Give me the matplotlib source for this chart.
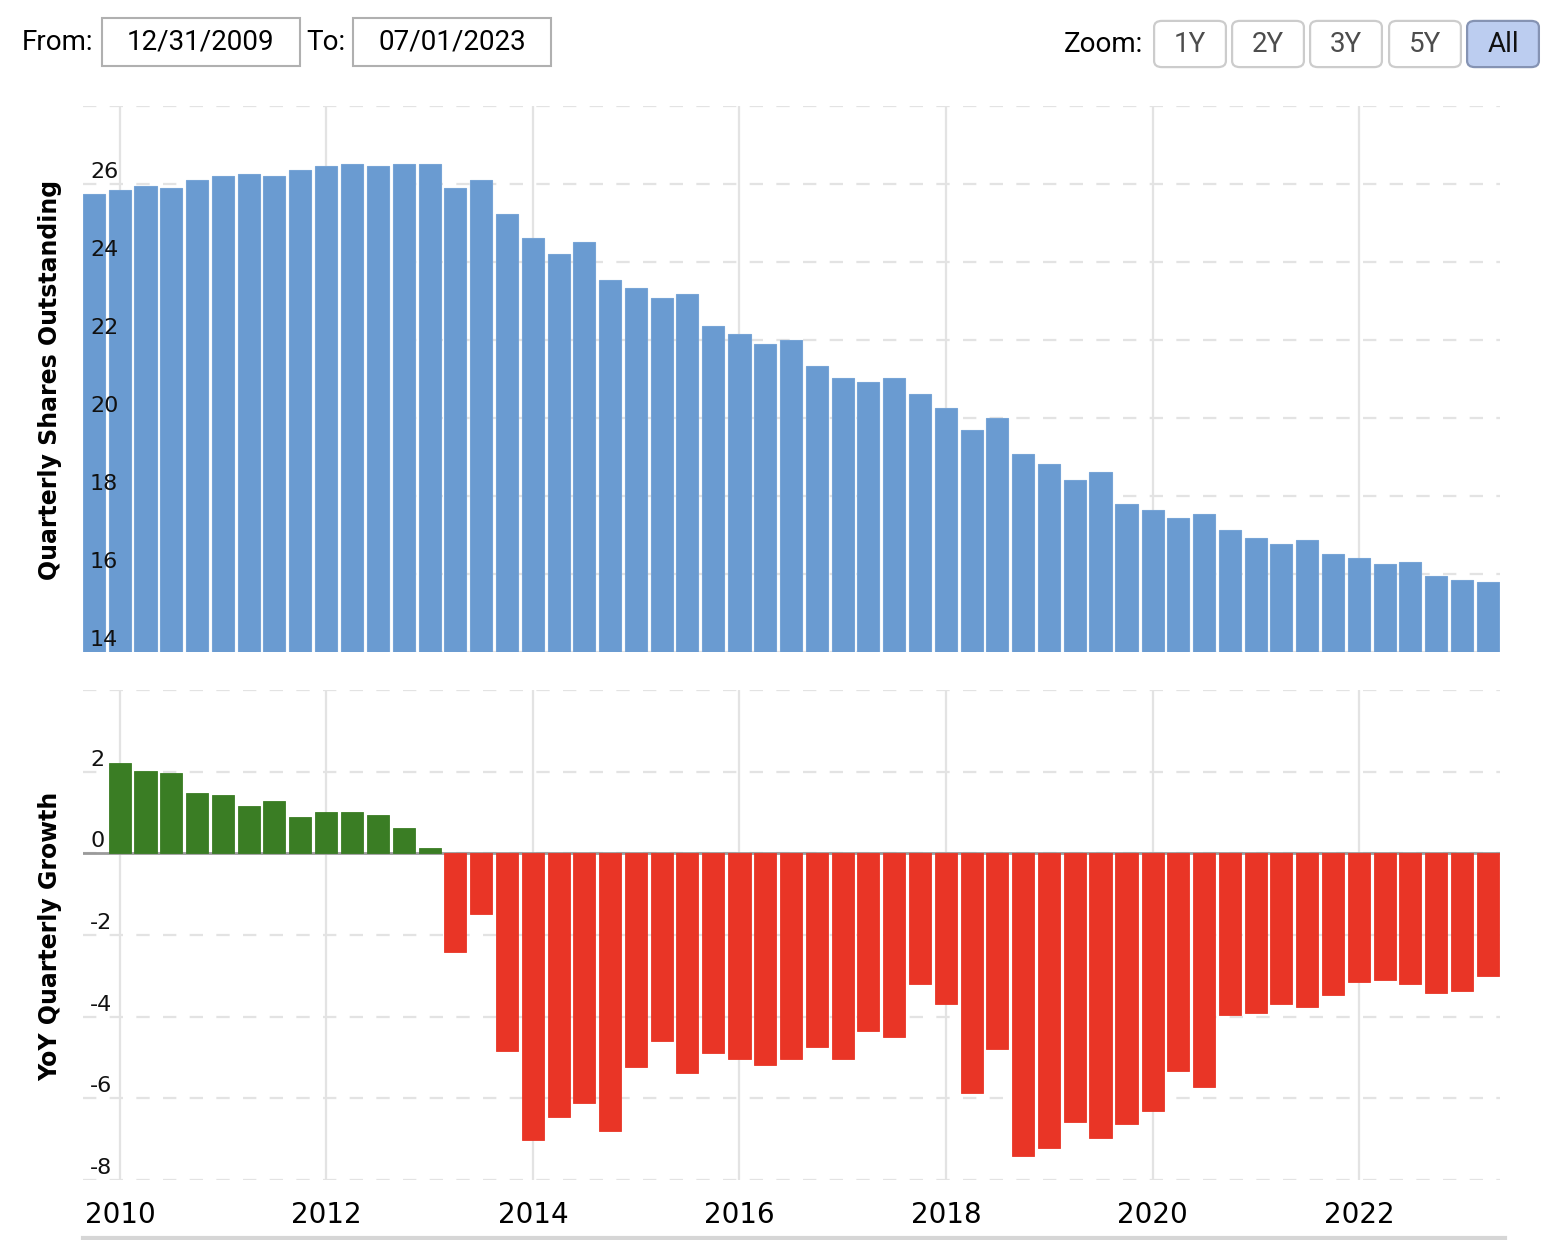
import matplotlib
matplotlib.use("Agg")
import matplotlib.pyplot as plt
from matplotlib.patches import FancyBboxPatch, Rectangle
from matplotlib.lines import Line2D
import pandas as pd

# quarterly shares outstanding (billions), Q4 2009 .. Q2 2023
shares = [25.74, 25.85, 25.95, 25.90, 26.10, 26.20, 26.26, 26.20, 26.36, 26.46,
          26.51, 26.46, 26.51, 26.51, 25.90, 26.10, 25.23, 24.62, 24.20, 24.51,
          23.54, 23.33, 23.08, 23.18, 22.36, 22.15, 21.90, 22.00, 21.33, 21.03,
          20.92, 21.03, 20.62, 20.26, 19.70, 20.00, 19.08, 18.82, 18.41, 18.62,
          17.80, 17.64, 17.44, 17.54, 17.13, 16.92, 16.77, 16.87, 16.51, 16.41,
          16.26, 16.31, 15.95, 15.85, 15.80]

# YoY quarterly growth (%), Q1 2010 .. Q2 2023
growth = [2.20, 2.01, 1.96, 1.48, 1.44, 1.15, 1.29, 0.90, 1.00, 1.00,
          0.95, 0.61, 0.12, -2.41, -1.49, -4.84, -7.03, -6.45, -6.11, -6.79,
          -5.23, -4.60, -5.38, -4.89, -5.04, -5.18, -5.04, -4.74, -5.04, -4.36,
          -4.50, -3.19, -3.68, -5.86, -4.79, -7.42, -7.22, -6.59, -6.98, -6.64,
          -6.30, -5.33, -5.72, -3.97, -3.92, -3.68, -3.77, -3.48, -3.14, -3.09,
          -3.19, -3.43, -3.38, -3.00]

quarters = pd.date_range("2009-10-01", periods=len(shares), freq="QS")
growth_quarters = quarters[1:]

top_ticks = [14, 16, 18, 20, 22, 24, 26]
bottom_ticks = [-8, -6, -4, -2, 0, 2]
year_ticks = [2010, 2012, 2014, 2016, 2018, 2020, 2022]

W, H = 1560, 1240
fig = plt.figure(figsize=(W / 100, H / 100), dpi=100)


def fx(px):
    return px / W


def fy(py):
    return 1 - py / H


blue = "#6a9bd1"
green = "#3a7d24"
red = "#e93526"
grid_c = "#e3e3e3"

ax1 = fig.add_axes([fx(83), fy(652), fx(1500) - fx(83), fy(106) - fy(652)])
ax2 = fig.add_axes([fx(83), fy(1180), fx(1500) - fx(83), fy(690) - fy(1180)])

xlim = (pd.Timestamp("2009-08-23"), pd.Timestamp("2023-05-14"))
bar_w = 78

ax1.bar(quarters, shares, width=bar_w, color=blue, edgecolor="#77a4d6",
        linewidth=0.8, zorder=2)
ax1.set_ylim(14, 28)

gcol = [green if g >= 0 else red for g in growth]
ax2.bar(growth_quarters, growth, width=bar_w, color=gcol, edgecolor=gcol,
        linewidth=0.6, zorder=2)
ax2.set_ylim(-8, 4)
ax2.axhline(0, color="#9a9a9a", linewidth=2, zorder=1)

for ax, ticks, full in ((ax1, top_ticks, [14, 16, 18, 20, 22, 24, 26, 28]),
                        (ax2, bottom_ticks, [-8, -6, -4, -2, 0, 2, 4])):
    ax.set_xlim(*xlim)
    for s in ax.spines.values():
        s.set_visible(False)
    for v in full:
        ax.axhline(v, color=grid_c, linewidth=1.6, linestyle=(0, (6, 6)), zorder=0)
    for yr in year_ticks:
        ax.axvline(pd.Timestamp(f"{yr}-01-01"), color=grid_c, linewidth=1.6, zorder=0)
    ax.set_yticks([])
    ax.set_xticks([])
    for v in ticks:
        ax.annotate(str(v), xy=(0, v), xycoords=("axes fraction", "data"),
                    xytext=(7, 2), textcoords="offset pixels",
                    ha="left", va="bottom", fontsize=16, color="#111111",
                    zorder=5)

ax2.set_xticks([pd.Timestamp(f"{yr}-01-01") for yr in year_ticks])
ax2.set_xticklabels([str(yr) for yr in year_ticks], fontsize=20)
ax2.tick_params(axis="x", length=0, pad=15)

fig.text(fx(50), fy(380), "Quarterly Shares Outstanding", rotation=90,
         ha="center", va="center", fontsize=17, fontweight="bold")
fig.text(fx(50), fy(936), "YoY Quarterly Growth", rotation=90,
         ha="center", va="center", fontsize=17, fontweight="bold")

# range selector header
ui_font = "Roboto"
fig.text(fx(22), fy(42), "From:", ha="left", va="center", fontsize=20, family=ui_font)
fig.text(fx(306), fy(42), "To:", ha="left", va="center", fontsize=20, family=ui_font)
for x0, x1, label in ((102, 300, "12/31/2009"), (353, 551, "07/01/2023")):
    fig.add_artist(Rectangle((fx(x0), fy(66)), fx(x1) - fx(x0), fy(18) - fy(66),
                             transform=fig.transFigure, facecolor="white",
                             edgecolor="#b0b0b0", linewidth=1.5))
    fig.text(fx((x0 + x1) / 2), fy(42), label, ha="center", va="center",
             fontsize=20, family=ui_font)

fig.text(fx(1143), fy(44), "Zoom:", ha="right", va="center", fontsize=20, family=ui_font)
buttons = [(1154, "1Y"), (1232, "2Y"), (1310, "3Y"), (1389, "5Y"), (1467, "All")]
for x0, label in buttons:
    active = label == "All"
    fig.add_artist(FancyBboxPatch((fx(x0 + 4), fy(64)), fx(64), fy(24) - fy(64),
                                  boxstyle="round,pad=0.0025,rounding_size=0.005",
                                  transform=fig.transFigure,
                                  facecolor="#bccdf0" if active else "white",
                                  edgecolor="#8593b3" if active else "#cccccc",
                                  linewidth=1.6))
    fig.text(fx(x0 + 36), fy(44), label, ha="center", va="center", fontsize=20,
             family=ui_font, color="#111111" if active else "#4d4d4d")

fig.add_artist(Line2D([fx(83), fx(1505)], [fy(1238), fy(1238)],
                      transform=fig.transFigure, color="#d6d6d6", linewidth=3))

fig.savefig("out.png", dpi=100)
